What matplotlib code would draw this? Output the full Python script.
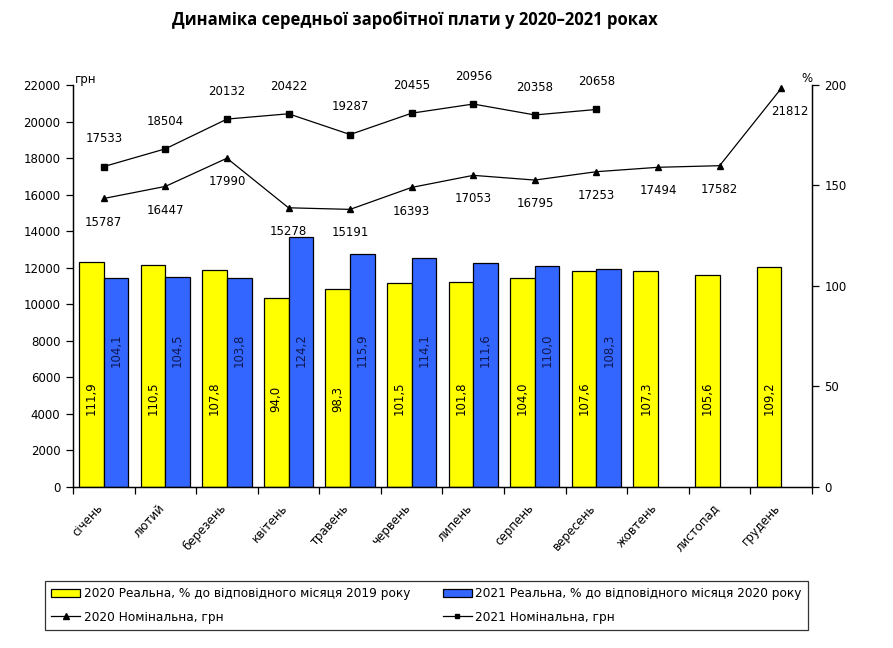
import matplotlib
matplotlib.use("Agg")
import matplotlib.pyplot as plt
import matplotlib.transforms as mtransforms
from matplotlib.lines import Line2D
from matplotlib.patches import Patch
import numpy as np

plt.rcParams['font.family'] = ['DejaVu Sans']

# months
months = ['січень', 'лютий', 'березень', 'квітень', 'травень', 'червень',
          'липень', 'серпень', 'вересень', 'жовтень', 'листопад', 'грудень']

# real wage, % to the same month of previous year
real_2020 = [111.9, 110.5, 107.8, 94.0, 98.3, 101.5, 101.8, 104.0, 107.6, 107.3, 105.6, 109.2]
real_2021 = [104.1, 104.5, 103.8, 124.2, 115.9, 114.1, 111.6, 110.0, 108.3]

# nominal wage, UAH
nom_2020 = [15787, 16447, 17990, 15278, 15191, 16393, 17053, 16795, 17253, 17494, 17582, 21812]
nom_2021 = [17533, 18504, 20132, 20422, 19287, 20455, 20956, 20358, 20658]

yellow = '#FFFF00'
blue = '#3366FF'

fig = plt.figure(figsize=(8.93, 6.48), dpi=100)
ax = fig.add_axes([0.0817, 0.2485, 0.8276, 0.6204])   # bars, % (right scale)
axl = ax.twinx()                                       # lines, грн (left scale)

x = np.arange(len(months))
w = 0.4
ax.bar(x[:len(real_2020)] - w / 2, real_2020, w, color=yellow, edgecolor='black', linewidth=0.9)
ax.bar(x[:len(real_2021)] + w / 2, real_2021, w, color=blue, edgecolor='black', linewidth=0.9)

for i, v in enumerate(real_2020):
    ax.text(i - w / 2, 44, f'{v:.1f}'.replace('.', ','), rotation=90, ha='center', va='center',
            fontsize=8.5, color='black')
for i, v in enumerate(real_2021):
    ax.text(i + w / 2, 68, f'{v:.1f}'.replace('.', ','), rotation=90, ha='center', va='center',
            fontsize=8.5, color='#101850')

axl.plot(x[:len(nom_2020)], nom_2020, color='black', lw=0.9, marker='^', ms=4.5)
axl.plot(x[:len(nom_2021)], nom_2021, color='black', lw=0.9, marker='s', ms=4)

for i, v in enumerate(nom_2021):
    axl.annotate(str(v), (i, v), xytext=(0, 20), textcoords='offset points',
                 ha='center', va='center', fontsize=8.5)
for i, v in enumerate(nom_2020):
    dx = 6 if i == len(nom_2020) - 1 else 0
    axl.annotate(str(v), (i, v), xytext=(dx, -17), textcoords='offset points',
                 ha='center', va='center', fontsize=8.5)

# scales
ax.set_xlim(-0.5, len(months) - 0.5)
ax.set_ylim(0, 200)
ax.set_yticks(np.arange(0, 201, 50))
axl.set_ylim(0, 22000)
axl.set_yticks(np.arange(0, 22001, 2000))

ax.yaxis.tick_right()
axl.yaxis.tick_left()
ax.tick_params(axis='y', direction='out', length=5, width=0.9, labelsize=8.5, pad=4)
axl.tick_params(axis='y', direction='out', length=5, width=0.9, labelsize=8.5, pad=4)

ax.set_xticks(x)
ax.set_xticklabels(months, rotation=48, ha='right', va='top', rotation_mode='anchor', fontsize=8.5)
ax.tick_params(axis='x', which='major', length=0, pad=9)
ax.set_xticks(np.arange(-0.5, len(months), 1.0), minor=True)
ax.tick_params(axis='x', which='minor', direction='out', length=5, width=0.9)
shift = mtransforms.ScaledTranslation(-8 / 100, -2 / 100, fig.dpi_scale_trans)
for lbl in ax.get_xticklabels():
    lbl.set_transform(lbl.get_transform() + shift)

for a in (ax, axl):
    a.spines['top'].set_visible(False)
    for s in ('left', 'right', 'bottom'):
        a.spines[s].set_linewidth(0.9)

axl.text(-0.47, 22300, 'грн', ha='left', va='center', fontsize=8.5)
ax.text(11.5, 203, '%', ha='right', va='center', fontsize=8.5)

fig.text(0.465, 0.969, 'Динаміка середньої заробітної плати у 2020–2021 роках',
         ha='center', va='center', fontsize=12, fontweight='bold', family='Open Sans')

handles = [Patch(facecolor=yellow, edgecolor='black', linewidth=0.9),
           Line2D([], [], color='black', lw=0.9, marker='^', ms=4),
           Patch(facecolor=blue, edgecolor='black', linewidth=0.9),
           Line2D([], [], color='black', lw=0.9, marker='s', ms=3.5)]
labels = ['2020 Реальна, % до відповідного місяця 2019 року',
          '2020 Номінальна, грн',
          '2021 Реальна, % до відповідного місяця 2020 року',
          '2021 Номінальна, грн']
leg = fig.legend(handles, labels, ncol=2, loc='center', mode='expand',
                 bbox_to_anchor=(0.0504, 0.023, 0.854, 0.085), fontsize=8.7,
                 frameon=True, fancybox=False, edgecolor='black', borderpad=0.5,
                 borderaxespad=0.0, handlelength=2.4, handletextpad=0.3,
                 columnspacing=0.2, labelspacing=0.85)
leg.get_frame().set_linewidth(0.9)

fig.savefig('out.png', dpi=100)
